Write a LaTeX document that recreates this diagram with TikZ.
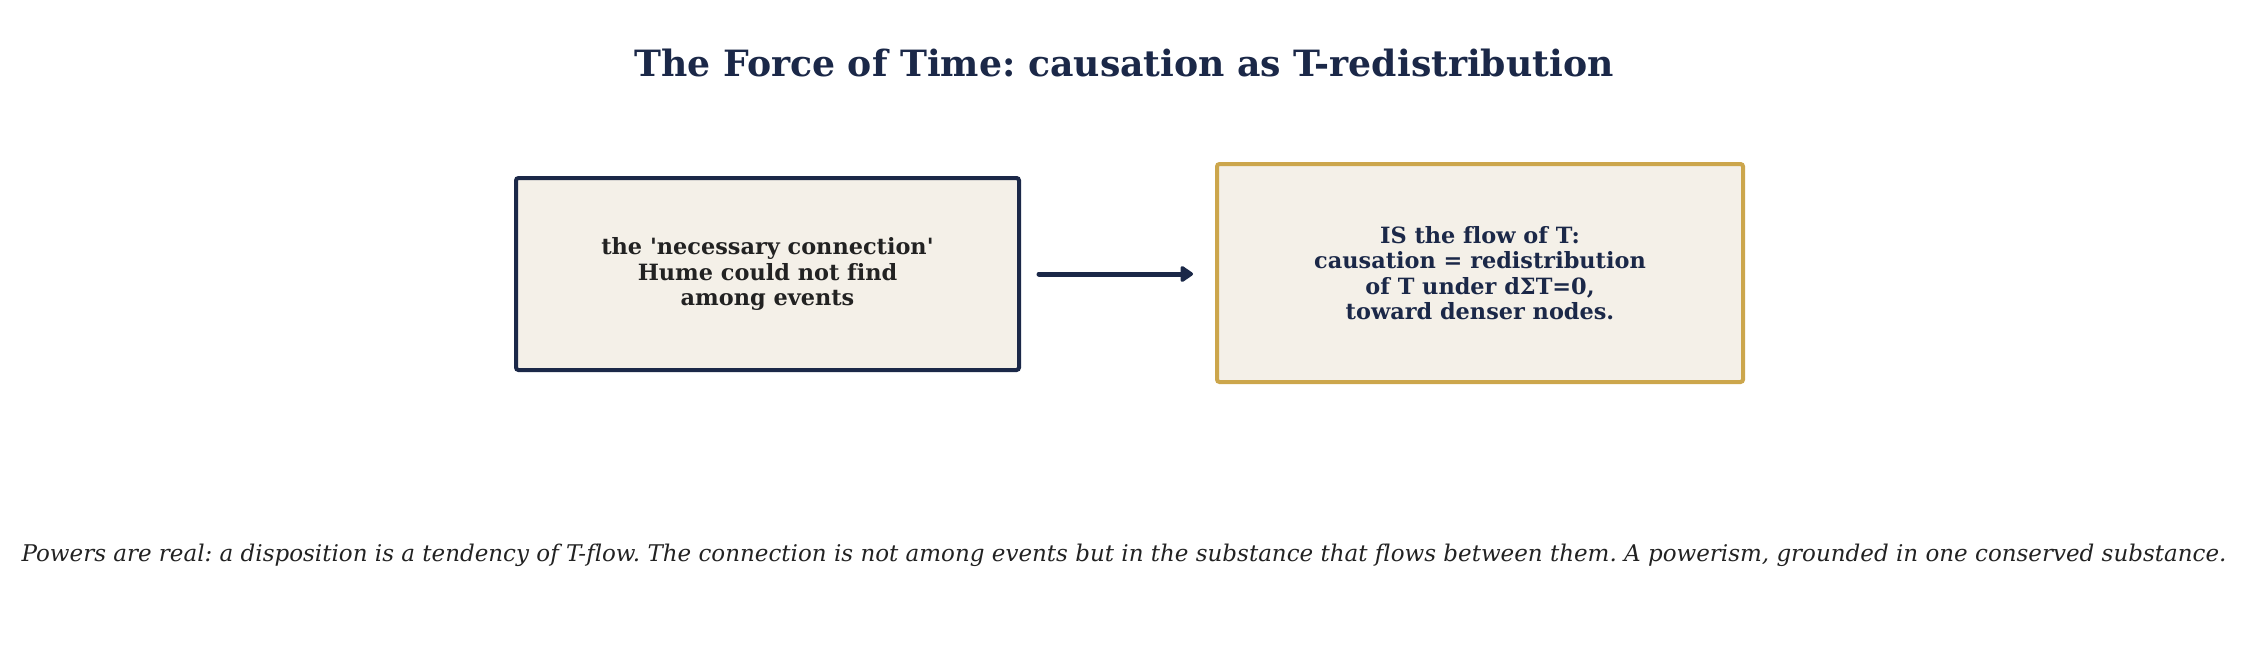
\documentclass[tikz,border=0pt]{standalone}
\usepackage{fontspec}
\newfontfamily\dv{DejaVu Serif}[Ligatures=NoCommon]
\usetikzlibrary{arrows.meta}
\definecolor{navy}{HTML}{1B2848}
\definecolor{gold}{HTML}{CCA64C}
\definecolor{cream}{HTML}{F4F0E8}
\definecolor{ink}{HTML}{222222}
\begin{document}
\frenchspacing
\begin{tikzpicture}[x=1pt,y=-1pt,
  box/.style={draw, line width=4pt, fill=cream, rounded corners=2.5pt, inner sep=0pt, align=center, font=\dv\fontsize{22.4}{25.5}\selectfont\bfseries},
  conn/.style={draw=navy, line width=5pt, line cap=round, -{Triangle[length=14pt,width=18pt,round]}}]
\useasboundingbox (0,0) rectangle (2248,656);
\node[font=\dv\fontsize{36.2}{42}\selectfont\bfseries, text=navy] (title) at (1124,63) {The Force of Time: causation as T-redistribution};
\node[box, draw=navy, text=ink, minimum width=503pt, minimum height=192pt] (left) at (767.5,274) {the 'necessary connection'\\Hume could not find\\among events};
\node[box, draw=gold, text=navy, minimum width=526pt, minimum height=218pt] (right) at (1480,273) {IS the flow of T:\\causation = redistribution\\of T under dΣT=0,\\toward denser nodes.};
\coordinate (a0) at (1039,274);
\coordinate (a1) at (1193,274);
\draw[conn] (a0) -- (a1);
\node[font=\dv\fontsize{23}{27}\selectfont\itshape, text=ink] (foot) at (1124,555) {Powers are real: a disposition is a tendency of T-flow. The connection is not among events but in the substance that flows between them. A powerism, grounded in one conserved substance.};
\end{tikzpicture}
\end{document}
